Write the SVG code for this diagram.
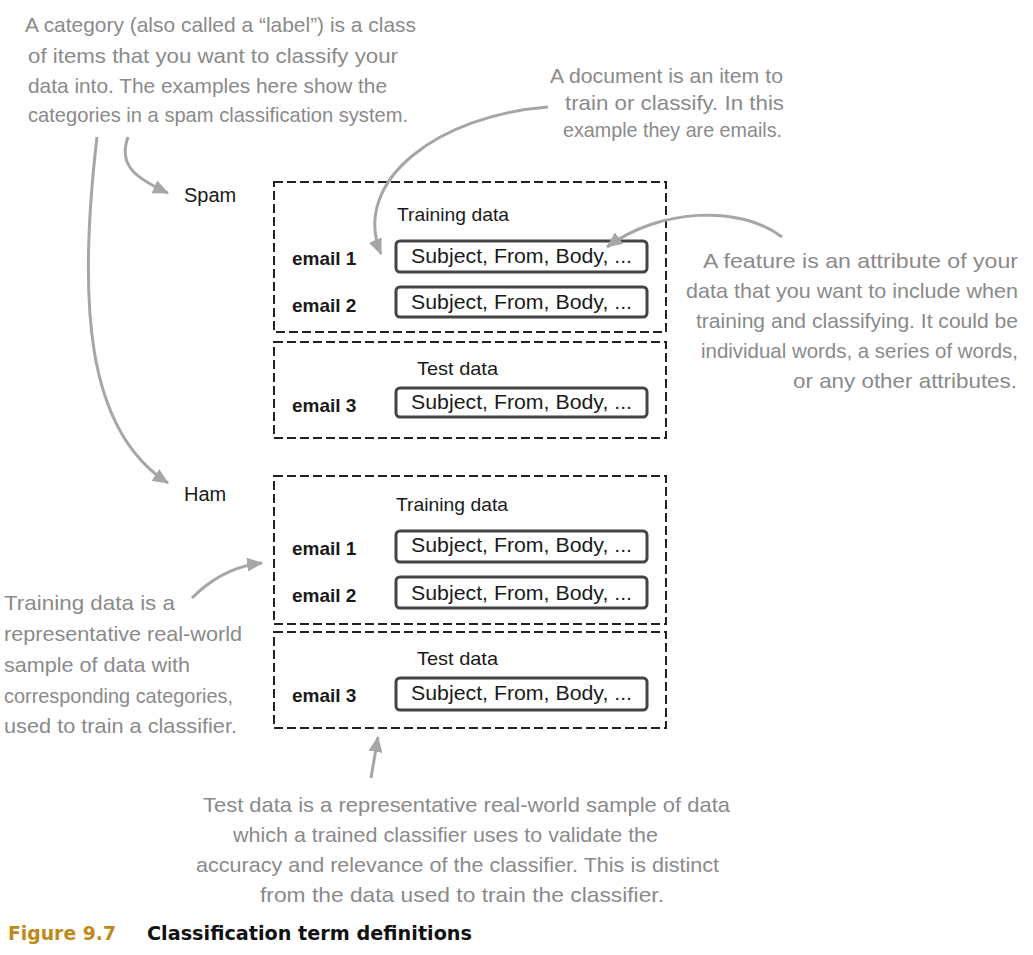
<svg xmlns="http://www.w3.org/2000/svg" width="1033" height="955" viewBox="0 0 1033 955">
<style>
.hw{font-family:"Liberation Sans",Arial,sans-serif;font-size:21px;fill:#8a8a8a;}
.lbl{font-family:"Liberation Sans",Arial,sans-serif;font-size:20px;fill:#1a1a1a;}
.sec{font-family:"Liberation Sans",Arial,sans-serif;font-size:19px;fill:#1a1a1a;}
.em{font-family:"Liberation Sans",Arial,sans-serif;font-size:19px;font-weight:bold;fill:#1a1a1a;}
.subj{font-family:"Liberation Sans",Arial,sans-serif;font-size:20px;fill:#1a1a1a;}
.dash{fill:none;stroke:#222;stroke-width:2;stroke-dasharray:9 4;}
.rec{fill:#fff;stroke:#444;stroke-width:3;}
.arr{fill:none;stroke:#a6a6a6;stroke-width:3;marker-end:url(#ah);}
.cap{font-family:"DejaVu Sans",sans-serif;font-size:19px;font-weight:bold;}
</style>
<defs>
<marker id="ah" markerUnits="userSpaceOnUse" markerWidth="16" markerHeight="14" refX="15" refY="7" orient="auto">
<path d="M0,0 L16,7 L0,14 z" fill="#a6a6a6"/>
</marker>
</defs>
<rect width="1033" height="955" fill="#fff"/>

<g id="note-category">
<text class="hw" x="25" y="32" textLength="391" lengthAdjust="spacingAndGlyphs">A category (also called a “label”) is a class</text>
<text class="hw" x="28" y="63" textLength="370" lengthAdjust="spacingAndGlyphs">of items that you want to classify your</text>
<text class="hw" x="28" y="93" textLength="359" lengthAdjust="spacingAndGlyphs">data into. The examples here show the</text>
<text class="hw" x="28" y="122" textLength="380" lengthAdjust="spacingAndGlyphs">categories in a spam classification system.</text>
</g>
<g id="note-document">
<text class="hw" x="550" y="83" textLength="233" lengthAdjust="spacingAndGlyphs">A document is an item to</text>
<text class="hw" x="565" y="110" textLength="219" lengthAdjust="spacingAndGlyphs">train or classify. In this</text>
<text class="hw" x="563" y="137" textLength="219" lengthAdjust="spacingAndGlyphs">example they are emails.</text>
</g>
<g id="note-feature">
<text class="hw" x="703" y="268" textLength="315" lengthAdjust="spacingAndGlyphs">A feature is an attribute of your</text>
<text class="hw" x="686" y="298" textLength="332" lengthAdjust="spacingAndGlyphs">data that you want to include when</text>
<text class="hw" x="696" y="328" textLength="322" lengthAdjust="spacingAndGlyphs">training and classifying. It could be</text>
<text class="hw" x="701" y="358" textLength="317" lengthAdjust="spacingAndGlyphs">individual words, a series of words,</text>
<text class="hw" x="793" y="388" textLength="224" lengthAdjust="spacingAndGlyphs">or any other attributes.</text>
</g>
<g id="note-training">
<text class="hw" x="4" y="610" textLength="171" lengthAdjust="spacingAndGlyphs">Training data is a</text>
<text class="hw" x="4" y="641" textLength="238" lengthAdjust="spacingAndGlyphs">representative real-world</text>
<text class="hw" x="4" y="672" textLength="186" lengthAdjust="spacingAndGlyphs">sample of data with</text>
<text class="hw" x="4" y="703" textLength="229" lengthAdjust="spacingAndGlyphs">corresponding categories,</text>
<text class="hw" x="4" y="733" textLength="233" lengthAdjust="spacingAndGlyphs">used to train a classifier.</text>
</g>
<g id="note-test">
<text class="hw" x="203" y="812" textLength="527" lengthAdjust="spacingAndGlyphs">Test data is a representative real-world sample of data</text>
<text class="hw" x="233" y="842" textLength="425" lengthAdjust="spacingAndGlyphs">which a trained classifier uses to validate the</text>
<text class="hw" x="196" y="872" textLength="523" lengthAdjust="spacingAndGlyphs">accuracy and relevance of the classifier. This is distinct</text>
<text class="hw" x="260" y="902" textLength="404" lengthAdjust="spacingAndGlyphs">from the data used to train the classifier.</text>
</g>

<g id="spam">
<text class="lbl" x="184" y="202">Spam</text>
<g id="spam-training">
<rect class="dash" x="274" y="182" width="392" height="150"/>
<text class="sec" x="397" y="221" textLength="112" lengthAdjust="spacingAndGlyphs">Training data</text>
<text class="em" x="292" y="265">email 1</text>
<rect class="rec" x="396" y="241" width="251" height="31" rx="4"/>
<text class="subj" x="411" y="263" textLength="221" lengthAdjust="spacingAndGlyphs">Subject, From, Body, ...</text>
<text class="em" x="292" y="312">email 2</text>
<rect class="rec" x="396" y="287" width="251" height="30" rx="4"/>
<text class="subj" x="411" y="309" textLength="221" lengthAdjust="spacingAndGlyphs">Subject, From, Body, ...</text>
</g>
<g id="spam-test">
<rect class="dash" x="274" y="342" width="392" height="96"/>
<text class="sec" x="417" y="375" textLength="81" lengthAdjust="spacingAndGlyphs">Test data</text>
<text class="em" x="292" y="412">email 3</text>
<rect class="rec" x="396" y="388" width="251" height="29" rx="4"/>
<text class="subj" x="411" y="409" textLength="221" lengthAdjust="spacingAndGlyphs">Subject, From, Body, ...</text>
</g>
</g>

<g id="ham">
<text class="lbl" x="184" y="501">Ham</text>
<g id="ham-training">
<rect class="dash" x="274" y="476" width="392" height="148"/>
<text class="sec" x="396" y="511" textLength="112" lengthAdjust="spacingAndGlyphs">Training data</text>
<text class="em" x="292" y="555">email 1</text>
<rect class="rec" x="396" y="531" width="251" height="31" rx="4"/>
<text class="subj" x="411" y="552" textLength="221" lengthAdjust="spacingAndGlyphs">Subject, From, Body, ...</text>
<text class="em" x="292" y="602">email 2</text>
<rect class="rec" x="396" y="577" width="251" height="31" rx="4"/>
<text class="subj" x="411" y="600" textLength="221" lengthAdjust="spacingAndGlyphs">Subject, From, Body, ...</text>
</g>
<g id="ham-test">
<rect class="dash" x="274" y="632" width="392" height="96"/>
<text class="sec" x="417" y="665" textLength="81" lengthAdjust="spacingAndGlyphs">Test data</text>
<text class="em" x="292" y="702">email 3</text>
<rect class="rec" x="396" y="678" width="251" height="32" rx="4"/>
<text class="subj" x="411" y="700" textLength="221" lengthAdjust="spacingAndGlyphs">Subject, From, Body, ...</text>
</g>
</g>

<g id="connectors">
<path class="arr" d="M128,137 C118,165 135,178 168,193"/>
<path class="arr" d="M97,137 C78,300 85,430 168,483"/>
<path class="arr" d="M548,107 C440,115 350,180 381,254"/>
<path class="arr" d="M782,237 C740,205 660,208 607,247"/>
<path class="arr" d="M192,598 C212,578 235,566 262,563"/>
<path class="arr" d="M371,778 L378,737"/>
</g>

<g id="caption">
<text class="cap" x="8" y="940" fill="#c08a1a" textLength="108" lengthAdjust="spacingAndGlyphs">Figure 9.7</text>
<text class="cap" x="147" y="940" fill="#111" textLength="325" lengthAdjust="spacingAndGlyphs">Classification term definitions</text>
</g>
</svg>
